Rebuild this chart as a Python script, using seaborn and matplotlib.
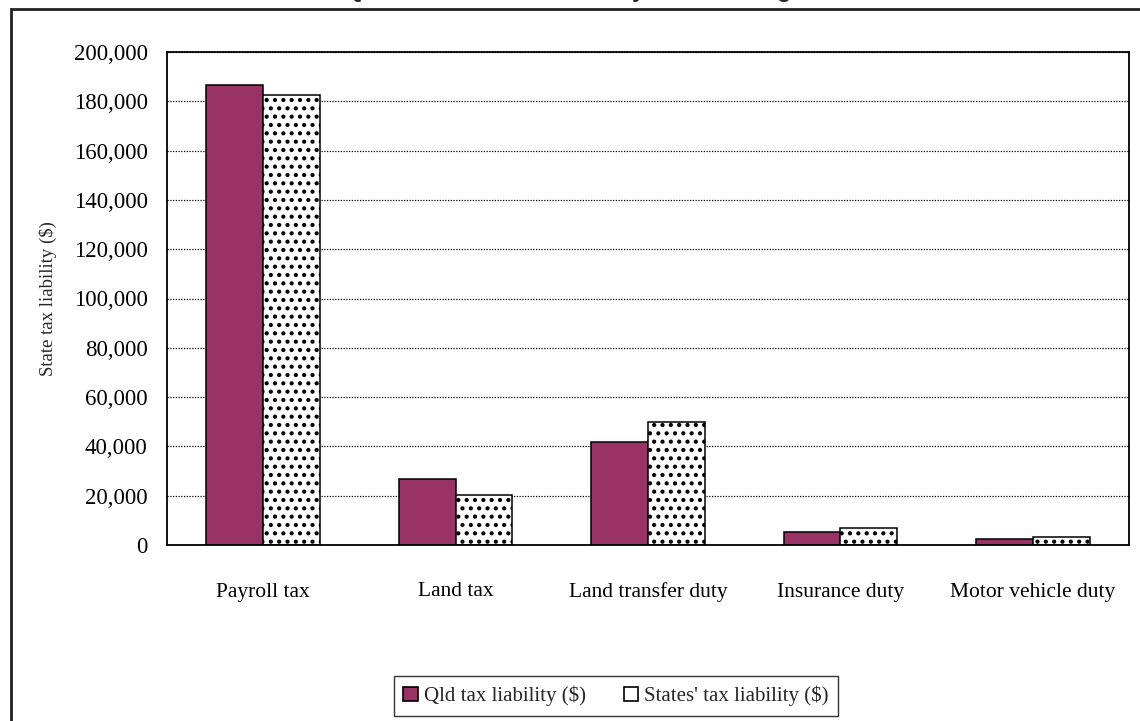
import matplotlib
matplotlib.use("Agg")
import matplotlib.pyplot as plt
from matplotlib.patches import Patch, Rectangle
from matplotlib.ticker import FixedLocator, StrMethodFormatter
import pandas as pd
import seaborn as sns

# Tax heads and liabilities ($)
categories = ["Payroll tax", "Land tax", "Land transfer duty", "Insurance duty", "Motor vehicle duty"]
qld_liability = [186600, 26800, 41900, 5150, 2450]
states_liability = [182700, 20200, 49800, 7000, 3100]
series_names = ["Qld tax liability ($)", "States' tax liability ($)"]
y_ticks = list(range(0, 200001, 20000))

title_text = "Qld and States' tax liability of an average business"
y_label = "State tax liability ($)"

bar_colors = ["#993366", "#FFFFFF"]

df = pd.DataFrame({
    "tax": categories * 2,
    "value": qld_liability + states_liability,
    "series": [series_names[0]] * len(categories) + [series_names[1]] * len(categories),
})

sns.set_style("white")
plt.rcParams["font.family"] = ["Liberation Serif", "DejaVu Serif"]
plt.rcParams["hatch.linewidth"] = 1.8

W, H = 1140, 721
fig = plt.figure(figsize=(W / 100, H / 100), dpi=100)
fig.patch.set_facecolor("white")

# outer chart frame (runs off the right and bottom edges)
fig.add_artist(Rectangle((11 / W, -0.2), 1.2, 1.2 - 9 / H,
                         transform=fig.transFigure, fill=False,
                         edgecolor="#222222", linewidth=2.0, clip_on=False))
# title, sitting above the top edge
fig.text(345 / W, 1.0 + 2.5 / H, title_text, ha="left", va="baseline",
         fontsize=17, fontweight="bold", family=["Liberation Sans", "DejaVu Sans"])

ax = fig.add_axes([167 / W, 1 - 545 / H, (1129 - 167) / W, (545 - 52) / H])
sns.barplot(data=df, x="tax", y="value", hue="series", hue_order=series_names,
            order=categories, palette=bar_colors, saturation=1, width=0.59,
            gap=0, edgecolor="black", linewidth=1.1, legend=False, ax=ax,
            errorbar=None)

# dotted fill for the States series
for bar in ax.containers[1]:
    bar.set_hatch("..")

ax.set_xlim(-0.5, len(categories) - 0.5)
ax.set_ylim(0, 200000)
ax.yaxis.set_major_locator(FixedLocator(y_ticks))
ax.yaxis.set_major_formatter(StrMethodFormatter("{x:,.0f}"))
ax.set_axisbelow(True)
ax.yaxis.grid(True, color="black", linestyle=(0, (1, 1.2)), linewidth=0.9)
ax.xaxis.grid(False)

for s in ax.spines.values():
    s.set_visible(True)
    s.set_color("black")
    s.set_linewidth(1.3)

ax.tick_params(axis="y", which="major", direction="in", length=4, width=1,
               color="black", labelsize=16.5, pad=14, labelcolor="black")
ax.tick_params(axis="x", which="major", length=0, labelsize=15.5, pad=27,
               labelcolor="black")
ax.xaxis.set_minor_locator(FixedLocator([i + 0.5 for i in range(len(categories) - 1)]))
ax.tick_params(axis="x", which="minor", direction="in", length=7, width=1, color="black")

ax.set_xlabel("")
ax.set_ylabel(y_label, fontsize=13.5, labelpad=12)

handles = [Patch(facecolor=c, edgecolor="black", linewidth=1.2) for c in bar_colors]
leg = fig.legend(handles, series_names, loc="center",
                 bbox_to_anchor=(616 / W, 1 - 696 / H), ncol=2, frameon=True,
                 fancybox=False, shadow=False, fontsize=15, handlelength=0.7,
                 handleheight=0.7, handletextpad=0.3, columnspacing=1.8,
                 borderpad=0.45)
leg.get_frame().set_edgecolor("black")
leg.get_frame().set_linewidth(1.0)

fig.savefig("out.png", dpi=100, facecolor="white")
